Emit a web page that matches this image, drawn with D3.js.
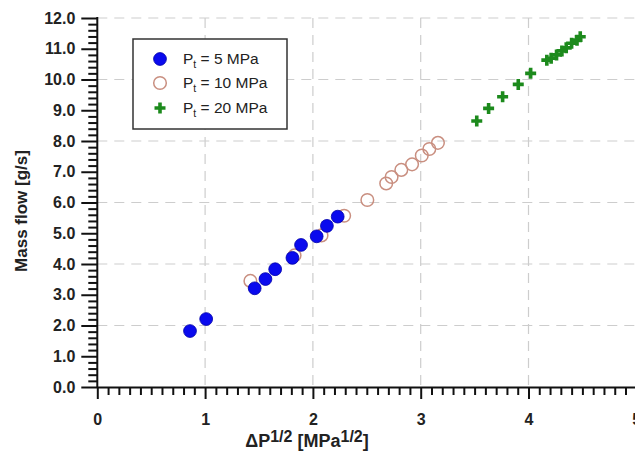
<!DOCTYPE html>
<html><head><meta charset="utf-8">
<script src="https://cdn.jsdelivr.net/npm/d3@7"></script>
<style>body{margin:0;background:#fff}svg{display:block}</style>
</head><body>
<svg id="c" width="635" height="454"></svg>
<script>
// ---- data ----
const series5x  = [0.86,1.01,1.46,1.56,1.65,1.81,1.89,2.035,2.13,2.23];
const series5y  = [1.82,2.21,3.21,3.51,3.83,4.20,4.62,4.90,5.24,5.54];
const series10x = [1.42,1.83,2.08,2.29,2.505,2.68,2.73,2.82,2.92,3.01,3.08,3.16];
const series10y = [3.45,4.28,4.93,5.57,6.08,6.62,6.83,7.06,7.24,7.53,7.74,7.94];
const series20x = [3.52,3.63,3.76,3.905,4.02,4.17,4.21,4.26,4.31,4.35,4.40,4.45,4.48];
const series20y = [8.65,9.06,9.44,9.84,10.20,10.63,10.69,10.80,10.93,11.03,11.18,11.28,11.39];
const xTicks = [0,1,2,3,4,5];
const yTicks = [0,1,2,3,4,5,6,7,8,9,10,11,12];
const legendLabels = [["5"," MPa"],["10"," MPa"],["20"," MPa"]];

const svg = d3.select("#c");
const x = d3.scaleLinear().domain([0,5]).range([97.3,636.3]);
const y = d3.scaleLinear().domain([0,12]).range([387,18]);
const font = "Arial, 'Liberation Sans', sans-serif";

// grid
const grid = svg.append("g").attr("stroke","#cdcdcd").attr("stroke-width",1.2).attr("stroke-dasharray","10,7");
grid.selectAll("line.h").data([2,4,6,8,10,12]).join("line")
  .attr("x1",x(0)).attr("x2",635).attr("y1",d=>y(d)).attr("y2",d=>y(d));
grid.selectAll("line.v").data([1,2,3,4]).join("line")
  .attr("y1",y(12)).attr("y2",y(0)).attr("x1",d=>x(d)).attr("x2",d=>x(d));

// axes
const minorY = d3.range(0,12.001,0.2).filter(v=>Math.abs(v-Math.round(v))>1e-6);
const minorX = d3.range(0,5.001,0.1).filter(v=>Math.abs(v-Math.round(v))>1e-6);

function styleAxis(g){
  g.selectAll("path").attr("stroke","#111").attr("stroke-width",2);
  g.selectAll("line").attr("stroke","#111").attr("stroke-width",2);
  g.selectAll("text").attr("font-family",font).attr("font-weight","bold").attr("font-size",16).attr("fill","#222");
}
const yMinor = svg.append("g").attr("transform",`translate(${x(0)},0)`)
  .call(d3.axisLeft(y).tickValues(minorY).tickSize(9).tickFormat("").tickSizeOuter(0));
styleAxis(yMinor); yMinor.select("path").remove();
const yMajor = svg.append("g").attr("transform",`translate(${x(0)},0)`)
  .call(d3.axisLeft(y).tickValues(yTicks).tickSize(16).tickPadding(6).tickFormat(d3.format(".1f")).tickSizeOuter(0));
styleAxis(yMajor);
yMajor.select("path").attr("d",`M0,${y(12)-1}V${y(0)}`);

const xMinor = svg.append("g").attr("transform",`translate(0,${y(0)})`)
  .call(d3.axisBottom(x).tickValues(minorX).tickSize(8).tickFormat("").tickSizeOuter(0));
styleAxis(xMinor); xMinor.select("path").remove();
const xMajor = svg.append("g").attr("transform",`translate(0,${y(0)})`)
  .call(d3.axisBottom(x).tickValues(xTicks).tickSize(12).tickPadding(15).tickFormat(d3.format("d")).tickSizeOuter(0));
styleAxis(xMajor);

// axis titles
svg.append("text").attr("transform","translate(27,211) rotate(-90)").attr("text-anchor","middle")
  .attr("font-family",font).attr("font-weight","bold").attr("font-size",17).attr("fill","#222")
  .text("Mass flow [g/s]");
const xt = svg.append("text").attr("x",307).attr("y",447).attr("text-anchor","middle")
  .attr("font-family",font).attr("font-weight","bold").attr("font-size",18).attr("fill","#222");
xt.append("tspan").text("\u0394P");
xt.append("tspan").attr("dy",-5).attr("font-size",16).text("1/2");
xt.append("tspan").attr("dy",5).text(" [MPa");
xt.append("tspan").attr("dy",-5).attr("font-size",16).text("1/2");
xt.append("tspan").attr("dy",5).text("]");

// markers
const plusPath = "M-5.5,0H5.5M0,-5.5V5.5";
const blue="#0a0aee", brown="#c98f80", green="#1c8a1c";
svg.append("g").selectAll("circle").data(d3.zip(series10x,series10y)).join("circle")
  .attr("cx",d=>x(d[0])).attr("cy",d=>y(d[1])).attr("r",6.3)
  .attr("fill","none").attr("stroke",brown).attr("stroke-width",1.5);
svg.append("g").selectAll("circle").data(d3.zip(series5x,series5y)).join("circle")
  .attr("cx",d=>x(d[0])).attr("cy",d=>y(d[1])).attr("r",6.4)
  .attr("fill",blue).attr("stroke","#0000a8").attr("stroke-width",0.8);
svg.append("g").selectAll("path").data(d3.zip(series20x,series20y)).join("path")
  .attr("transform",d=>`translate(${x(d[0])},${y(d[1])})`).attr("d",plusPath)
  .attr("stroke",green).attr("stroke-width",3.6).attr("fill","none");

// legend
const lg = svg.append("g");
lg.append("rect").attr("x",133).attr("y",39).attr("width",154).attr("height",90)
  .attr("fill","#fff").attr("stroke","#333").attr("stroke-width",1.5);
const rows=[59,83,108];
lg.append("circle").attr("cx",160).attr("cy",rows[0]).attr("r",6.4).attr("fill",blue).attr("stroke","#0000a8").attr("stroke-width",0.8);
lg.append("circle").attr("cx",160).attr("cy",rows[1]).attr("r",6.3).attr("fill","none").attr("stroke",brown).attr("stroke-width",1.5);
lg.append("path").attr("transform",`translate(160,${rows[2]})`).attr("d",plusPath).attr("stroke",green).attr("stroke-width",3.6);
legendLabels.forEach((l,i)=>{
  const t = lg.append("text").attr("x",183).attr("y",rows[i]+5).attr("font-family",font)
    .attr("font-size",15.5).attr("fill","#222");
  t.append("tspan").text("P");
  t.append("tspan").attr("dy",4).attr("font-size",10.5).text("t");
  t.append("tspan").attr("dy",-4).text(" = "+l[0]+l[1]);
});
</script>
</body></html>
